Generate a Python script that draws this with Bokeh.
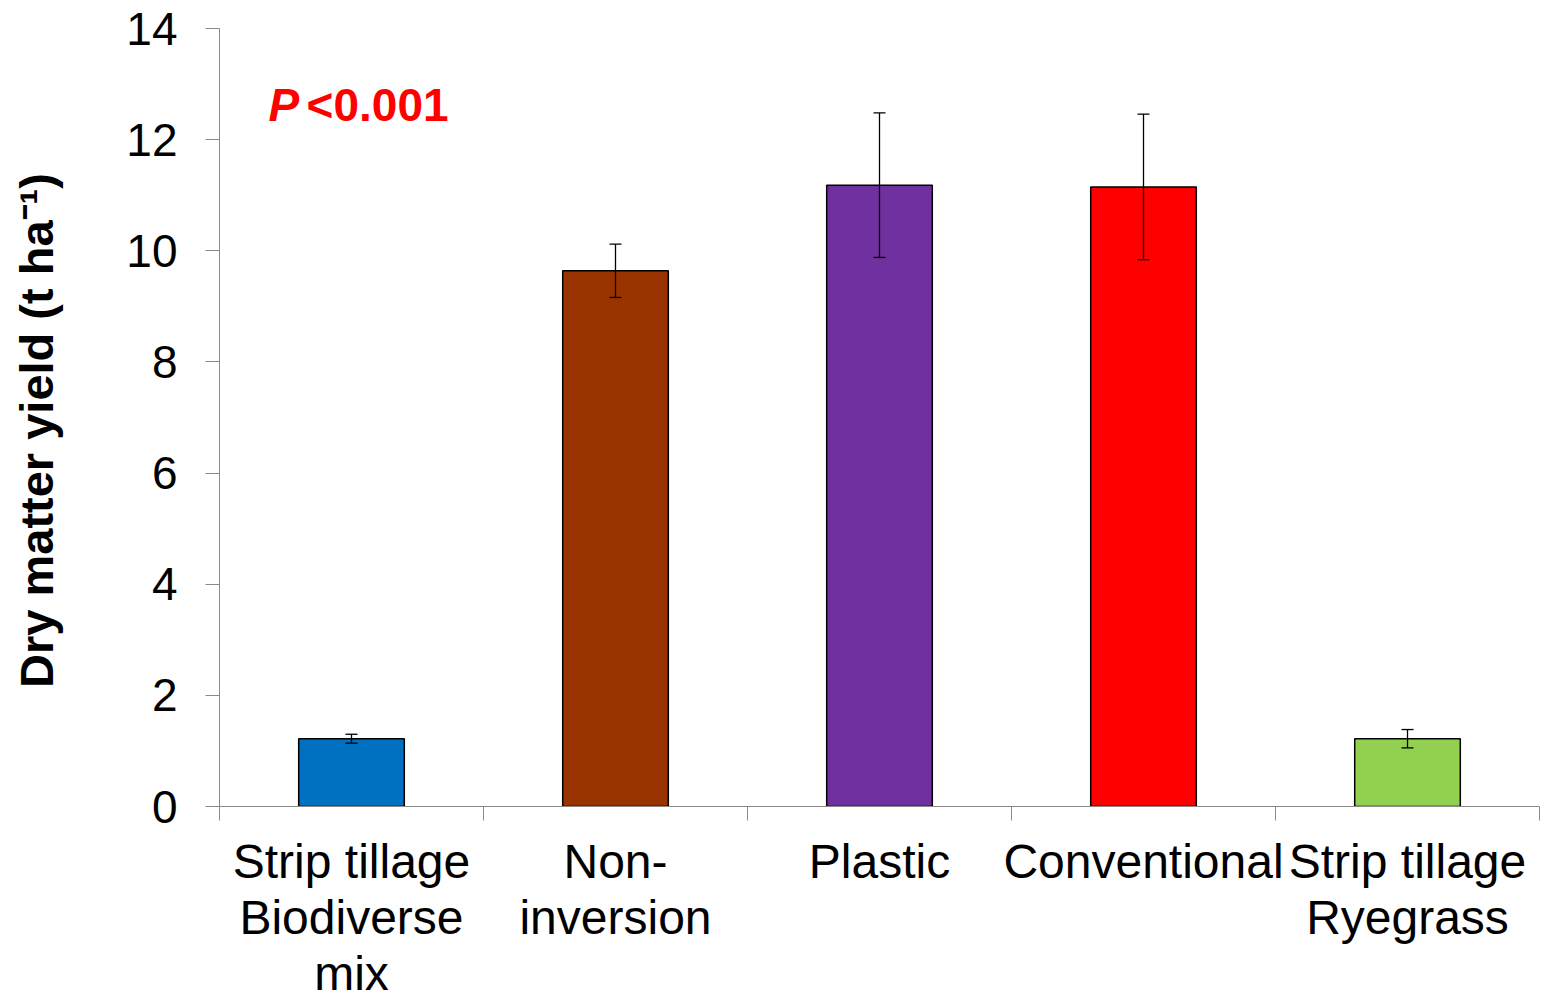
from bokeh.plotting import figure
from bokeh.models import (Range1d, LinearAxis, FixedTicker, Whisker, TeeHead,
                          ColumnDataSource, Label)
from bokeh.embed import file_html
from bokeh.resources import INLINE

categories = ["Strip tillage\nBiodiverse\nmix", "Non-\ninversion", "Plastic",
              "Conventional", "Strip tillage\nRyegrass"]
yield_values = [1.22, 9.64, 11.18, 11.15, 1.22]
errors = [0.08, 0.48, 1.30, 1.31, 0.165]
colors = ["#0070C0", "#993300", "#7030A0", "#FF0000", "#92D050"]
y_ticks = [0, 2, 4, 6, 8, 10, 12, 14]
y_title = "Dry matter yield (t ha\u207b\u00b9)"

FONT = "Liberation Sans"
AXIS_GRAY = "#898989"

centers = [i + 0.5 for i in range(len(categories))]
boundaries = list(range(len(categories) + 1))

src = ColumnDataSource(dict(
    x=centers,
    top=yield_values,
    upper=[v + e for v, e in zip(yield_values, errors)],
    lower=[v - e for v, e in zip(yield_values, errors)],
    color=colors,
))

p = figure(frame_width=1320, frame_height=778, x_range=Range1d(0, len(categories)),
           y_range=Range1d(0, 14), x_axis_location=None, y_axis_location=None,
           output_backend="svg", toolbar_location=None,
           min_border_left=219, min_border_top=28, min_border_bottom=0,
           min_border_right=7)
p.outline_line_color = None
p.grid.visible = False
p.background_fill_color = "white"
p.border_fill_color = "white"

p.vbar(x="x", top="top", width=0.4, source=src, fill_color="color",
       line_color="black", line_width=1.5)

w = Whisker(base="x", upper="upper", lower="lower", source=src,
            line_color="black", line_width=1.3, level="overlay",
            upper_head=TeeHead(size=12, line_color="black", line_width=1.3),
            lower_head=TeeHead(size=12, line_color="black", line_width=1.3))
p.add_layout(w)

# y axis
yax = LinearAxis(ticker=FixedTicker(ticks=y_ticks), minor_tick_line_color=None)
yax.axis_line_color = AXIS_GRAY
yax.major_tick_line_color = AXIS_GRAY
yax.major_tick_out = 14
yax.major_tick_in = 0
yax.major_label_standoff = 28
yax.major_label_text_font = FONT
yax.major_label_text_font_size = "46px"
yax.major_label_text_color = "black"
yax.axis_label = y_title + "\u00a0\u00a0"
yax.axis_label_text_font = FONT
yax.axis_label_text_font_size = "47px"
yax.axis_label_text_font_style = "bold"
yax.axis_label_text_color = "black"
yax.axis_label_standoff = 60
p.add_layout(yax, "left")

# x axis: labels at the bar centres, tick marks at the category boundaries
xax = LinearAxis(ticker=FixedTicker(ticks=centers, minor_ticks=boundaries),
                 major_label_overrides={c: name for c, name in zip(centers, categories)})
xax.axis_line_color = AXIS_GRAY
xax.major_tick_line_color = None
xax.major_tick_out = 14
xax.major_tick_in = 0
xax.minor_tick_line_color = AXIS_GRAY
xax.minor_tick_out = 14
xax.minor_tick_in = 0
xax.major_label_standoff = 14
xax.major_label_text_font = FONT
xax.major_label_text_font_size = "48px"
xax.major_label_text_color = "black"
xax.major_label_text_line_height = 1.065
p.add_layout(xax, "below")

# significance annotation
p.add_layout(Label(x=0.186, y=12.62, text="P",
                   text_font=FONT, text_font_size="46px",
                   text_font_style="bold italic", text_color="#FF0000",
                   text_baseline="alphabetic"))
p.add_layout(Label(x=0.33, y=12.62, text="<0.001",
                   text_font=FONT, text_font_size="46px",
                   text_font_style="bold", text_color="#FF0000",
                   text_baseline="alphabetic"))

open("out.html", "w").write(file_html(p, INLINE))
